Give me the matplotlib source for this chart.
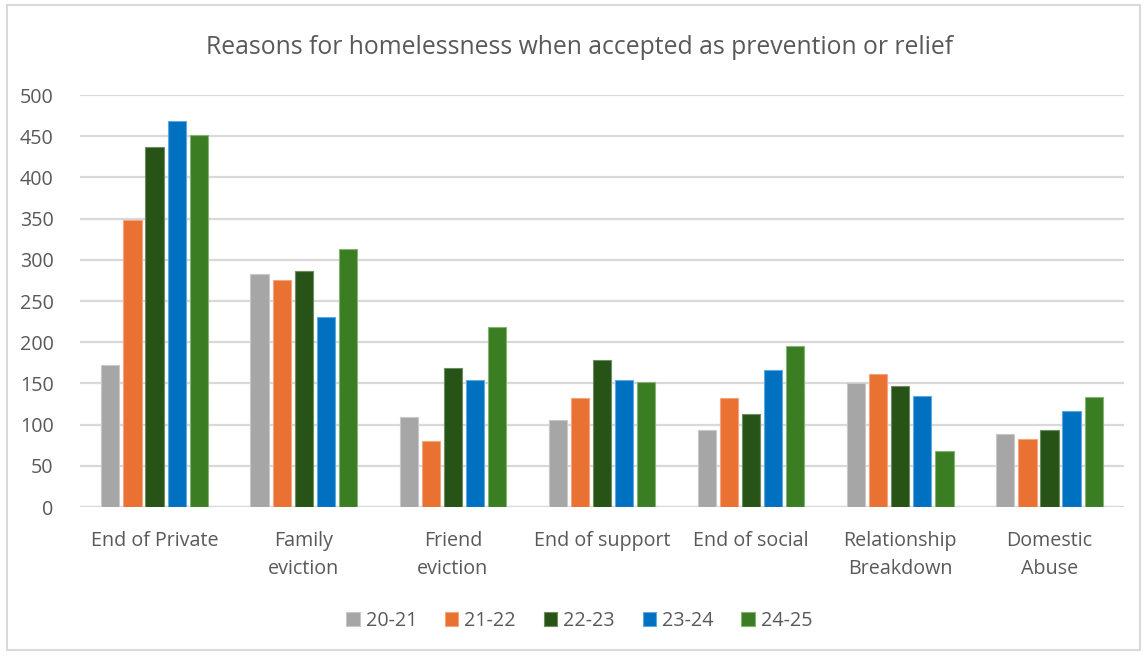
import numpy as np
import matplotlib
matplotlib.use('Agg')
import matplotlib.pyplot as plt
from matplotlib.patches import Rectangle

# data
categories = ['End of Private', 'Family\neviction', 'Friend\neviction', 'End of support',
              'End of social', 'Relationship\nBreakdown', 'Domestic\nAbuse']
years = ['20-21', '21-22', '22-23', '23-24', '24-25']
v_2021 = [172, 283, 109, 105, 93, 150, 88]
v_2122 = [348, 276, 80, 132, 132, 161, 82]
v_2223 = [437, 286, 169, 178, 113, 147, 93]
v_2324 = [469, 231, 154, 154, 166, 135, 116]
v_2425 = [452, 313, 219, 152, 195, 68, 133]
series = [v_2021, v_2122, v_2223, v_2324, v_2425]
colors = ['#A6A6A6', '#E97132', '#275317', '#0070C0', '#3B7D23']
edges = ['#C8C8C8', '#F4A57C', '#6E8C62', '#5FA8E0', '#86B274']

plt.rcParams['font.family'] = ['Open Sans', 'DejaVu Sans']
text_col = '#595959'

fig = plt.figure(figsize=(11.47, 6.57), dpi=100)
fig.patches.append(Rectangle((0.006, 0.01), 0.988, 0.982, transform=fig.transFigure,
                             fill=False, edgecolor='#D9D9D9', linewidth=1.5))
ax = fig.add_axes([0.0697, 0.2283, 0.9103, 0.6271])

x = np.arange(len(categories))
pitch = 0.148
for i, (vals, c, e) in enumerate(zip(series, colors, edges)):
    ax.bar(x + (i - 2) * pitch, vals, width=0.122, color=c, edgecolor=e,
           linewidth=0.8, label=years[i], zorder=3)

ax.set_xlim(-0.5, len(categories) - 0.5)
ax.set_ylim(0, 500)
ax.set_yticks(range(0, 501, 50))
ax.yaxis.grid(True, color='#D9D9D9', linewidth=1.6, zorder=0)
ax.set_axisbelow(True)
for s in ax.spines.values():
    s.set_visible(False)
ax.axhline(0, color='#D9D9D9', linewidth=1.6, zorder=1)
ax.tick_params(length=0, labelsize=14.2, labelcolor=text_col)
ax.tick_params(axis='x', pad=17)
ax.tick_params(axis='y', pad=19)
ax.set_xticks(x)
ax.set_xticklabels(categories, linespacing=1.58)

fig.text(0.505, 0.928, 'Reasons for homelessness when accepted as prevention or relief',
         ha='center', va='center', fontsize=17.8, color=text_col)

leg = fig.legend(loc='center', bbox_to_anchor=(0.505, 0.055), ncol=5, frameon=False,
                 fontsize=14.2, handlelength=0.7, handleheight=0.7, handletextpad=0.3,
                 columnspacing=1.4)
for t in leg.get_texts():
    t.set_color(text_col)

fig.savefig('out.png', dpi=100)
